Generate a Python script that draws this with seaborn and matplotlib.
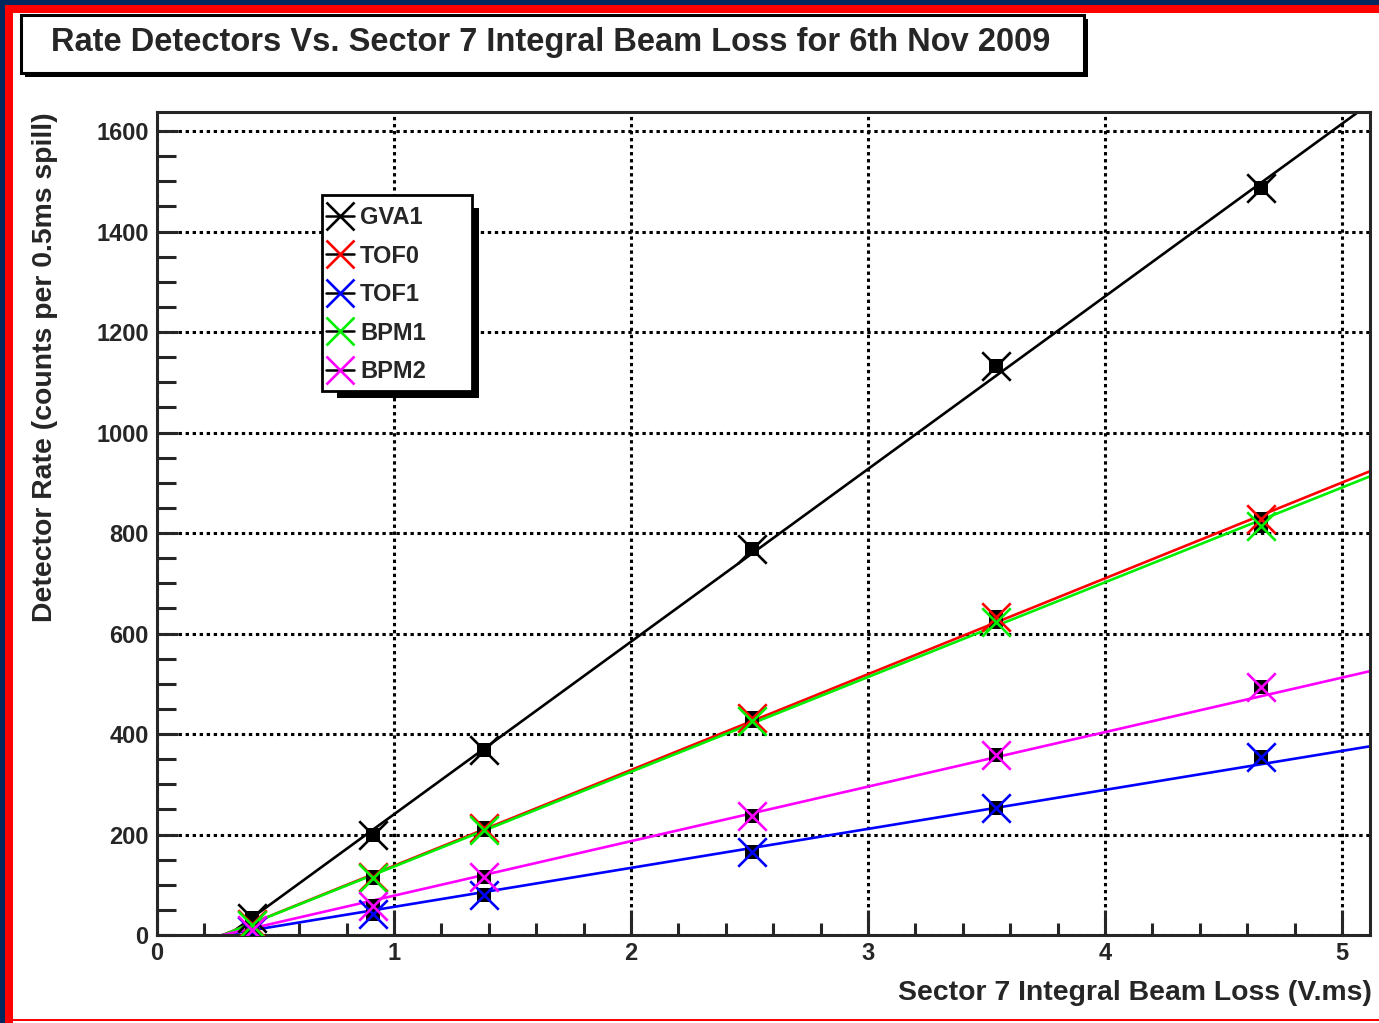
import numpy as np
import pandas as pd
import matplotlib.pyplot as plt
from matplotlib.patches import Rectangle
from matplotlib.lines import Line2D
from matplotlib.ticker import MultipleLocator
import seaborn as sns

# beam loss values (V.ms) and detector rates
beam_loss = [0.40, 0.91, 1.38, 2.51, 3.54, 4.66]
gva1 = [34, 199, 368, 768, 1132, 1487]
tof0 = [22, 115, 212, 432, 632, 828]
tof1 = [8, 42, 80, 165, 253, 355]
bpm1 = [20, 113, 208, 425, 622, 815]
bpm2 = [10, 58, 115, 237, 358, 493]

detectors = ["GVA1", "TOF0", "TOF1", "BPM1", "BPM2"]
colors = {"GVA1": "#000000", "TOF0": "#ff0000", "TOF1": "#0000ff",
          "BPM1": "#00ee00", "BPM2": "#ff00ff"}

# straight-line fits as drawn on the chart (slope, intercept)
fit_slope = [343.6, 190.7, 77.6, 188.6, 108.5]
fit_icept = [-103.4, -53.0, -21.6, -52.4, -30.2]

XMAX, YMAX = 5.118, 1638

df = pd.DataFrame({"loss": beam_loss * 5,
                   "rate": gva1 + tof0 + tof1 + bpm1 + bpm2,
                   "detector": [d for d in detectors for _ in beam_loss]})

fit_x = [0.0, XMAX]
fits = pd.DataFrame({"loss": fit_x * 5,
                     "rate": [m * x + b for m, b in zip(fit_slope, fit_icept) for x in fit_x],
                     "detector": [d for d in detectors for _ in fit_x]})

sns.set_style("ticks")
plt.rcParams["font.family"] = ["Liberation Sans", "DejaVu Sans"]
plt.rcParams["font.weight"] = "bold"

W, H = 1379, 1023
fig = plt.figure(figsize=(W / 100, H / 100), dpi=100)


def fx(p):
    return p / W


def fy(p):
    return 1 - p / H


def box(x0, y0, x1, y1, **kw):
    r = Rectangle((fx(x0), fy(y1)), (x1 - x0) / W, (y1 - y0) / H,
                  transform=fig.transFigure, **kw)
    fig.add_artist(r)
    return r


ax = fig.add_axes([fx(157), fy(935), (1370 - 157) / W, (935 - 112) / H])

sns.lineplot(data=fits, x="loss", y="rate", hue="detector", palette=colors,
             lw=1.9, legend=False, ax=ax, zorder=2)
for d in detectors:
    sub = df[df.detector == d]
    sns.scatterplot(data=sub, x="loss", y="rate", ax=ax, marker="s", s=95,
                    color="black", linewidth=0, zorder=3)
    sns.scatterplot(data=sub, x="loss", y="rate", ax=ax, marker="x", s=420,
                    color=colors[d], linewidth=1.9, zorder=4)

ax.set_xlim(0, XMAX)
ax.set_ylim(0, YMAX)
ax.set_xlabel("")
ax.set_ylabel("")

ax.xaxis.set_major_locator(MultipleLocator(1))
ax.xaxis.set_minor_locator(MultipleLocator(0.2))
ax.yaxis.set_major_locator(MultipleLocator(200))
ax.yaxis.set_minor_locator(MultipleLocator(50))
ax.tick_params(axis="x", which="major", direction="in", length=18, width=2.2,
               labelsize=17, pad=5, top=False)
ax.tick_params(axis="x", which="minor", direction="in", length=9, width=2.2, top=False)
ax.tick_params(axis="y", which="major", direction="in", length=15, width=2.2,
               labelsize=17, pad=6, right=False)
ax.tick_params(axis="y", which="minor", direction="in", length=14, width=2.2, right=False)
for lab in ax.get_xticklabels() + ax.get_yticklabels():
    lab.set_fontweight("bold")

ax.grid(True, which="major", color="black", lw=2.2, linestyle=(0, (1.1, 1.2)))
ax.set_axisbelow(True)
for s in ax.spines.values():
    s.set_linewidth(2.2)
    s.set_visible(True)

fig.text(fx(1372), fy(993), "Sector 7 Integral Beam Loss (V.ms)", ha="right",
         va="center", fontsize=20.4, fontweight="bold")
fig.text(fx(45), fy(112), "Detector Rate (counts per 0.5ms spill)", ha="center",
         va="top", rotation=90, fontsize=20.4, fontweight="bold")

# legend with ROOT-like shadowed frame
box(337, 208, 479, 398, facecolor="black", edgecolor="none", zorder=9)
box(322, 195, 472, 391, facecolor="white", edgecolor="black", lw=2, zorder=10)
handles = [Line2D([], [], color="black", lw=1.8, marker="x", markersize=20,
                  markeredgecolor=colors[d], markeredgewidth=1.9) for d in detectors]
leg = ax.legend(handles, detectors, loc="upper left",
                bbox_to_anchor=(fx(326), fy(206)), bbox_transform=fig.transFigure,
                frameon=False, borderpad=0, borderaxespad=0, handlelength=1.2,
                handletextpad=0.25, labelspacing=0.66,
                prop=dict(size=17, weight="bold"))
leg.set_zorder(11)
fig.add_artist(leg)

# title box
box(25, 19, 1088, 77, facecolor="black", edgecolor="none", zorder=5)
box(21, 15, 1084, 73, facecolor="white", edgecolor="black", lw=2.2, zorder=6)
fig.text(fx(551), fy(42), "Rate Detectors Vs. Sector 7 Integral Beam Loss for 6th Nov 2009",
         ha="center", va="center", fontsize=23.5, fontweight="bold", zorder=7)

# canvas border
navy = "#00285f"
box(0, 0, 5, H, facecolor=navy, edgecolor="none", zorder=20)
box(0, 0, W, 5, facecolor=navy, edgecolor="none", zorder=20)
box(5, 5, 13, H, facecolor="red", edgecolor="none", zorder=20)
box(5, 5, W, 13, facecolor="red", edgecolor="none", zorder=20)
box(13, 1019, W, 1021, facecolor="red", edgecolor="none", zorder=20)

fig.savefig("out.png", dpi=100)
